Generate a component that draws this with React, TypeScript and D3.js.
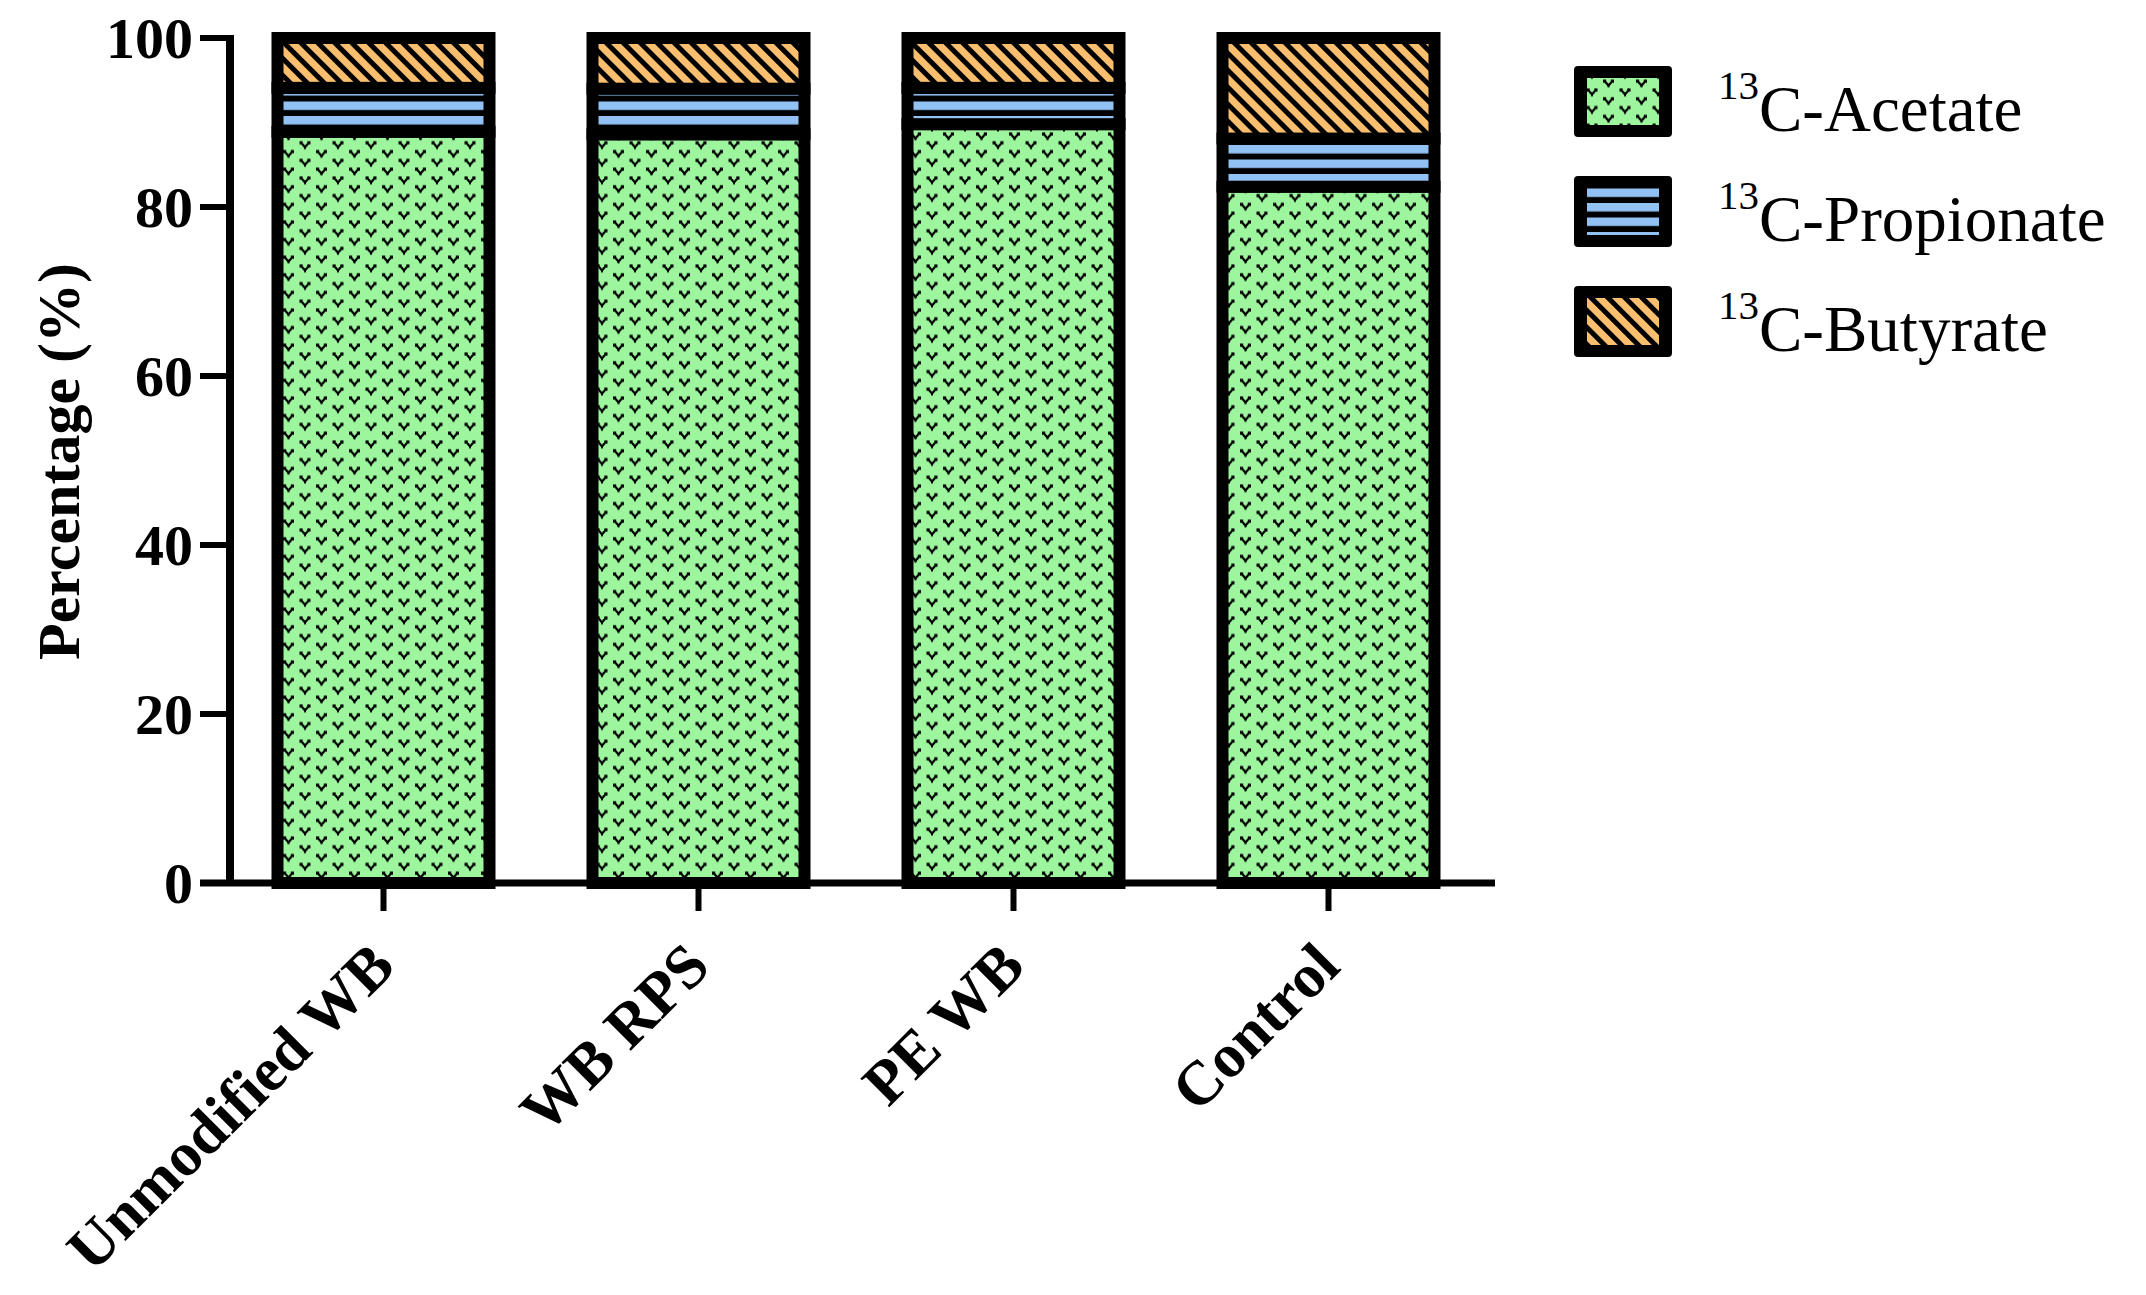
import React from "react";
import * as d3 from "d3";

const categories = ["Unmodified WB", "WB RPS", "PE WB", "Control"];
const acetate = [88.9, 88.6, 89.8, 82.4];
const propionate = [5.2, 5.4, 4.3, 5.7];
const butyrate = [5.9, 6.0, 5.9, 11.9];
const seriesKeys = ["acetate", "propionate", "butyrate"];
const seriesLabels = ["C-Acetate", "C-Propionate", "C-Butyrate"];
const yTicks = [0, 20, 40, 60, 80, 100];

const GREEN = "#9df59d";
const BLUE = "#92c2f4";
const ORANGE = "#f9be6e";
const W = 2146;
const H = 1295;
const FONT = "'Liberation Serif', 'Times New Roman', serif";

export default function App() {
  const x = d3
    .scaleBand<string>()
    .domain(categories)
    .range([226, 1486])
    .paddingInner(0.327)
    .paddingOuter(0.1635);
  const y = d3.scaleLinear().domain([0, 100]).range([883, 38]);
  const rows = categories.map((c, i) => ({
    cat: c,
    acetate: acetate[i],
    propionate: propionate[i],
    butyrate: butyrate[i],
  }));
  const stacked = d3.stack<any>().keys(seriesKeys)(rows);
  const patIds = ["pat-acetate", "pat-propionate", "pat-butyrate"];
  const bw = x.bandwidth();

  return (
    <svg
      width={W}
      height={H}
      style={{ position: "absolute", left: 0, top: 0 }}
      fontFamily={FONT}
    >
      <defs>
        <pattern id="pat-acetate" patternUnits="userSpaceOnUse" width={33} height={17.6}>
          <rect width={33} height={17.6} fill={GREEN} />
          {[
            [8, 4.4],
            [24.5, 13.2],
          ].map(([mx, my], k) => (
            <g key={k} transform={`translate(${mx},${my})`}>
              <rect x={-5.5} y={-4} width={3.2} height={3.2} fill="#000" />
              <rect x={2.3} y={-4} width={3.2} height={3.2} fill="#000" />
              <path d="M-3,-1.5L0,2L3,-1.5" stroke="#000" strokeWidth={2.2} fill="none" />
              <path d="M0,1.5V3.8" stroke="#000" strokeWidth={2} fill="none" />
            </g>
          ))}
        </pattern>
        <pattern id="pat-propionate" patternUnits="userSpaceOnUse" width={10} height={14.5}>
          <rect width={10} height={14.5} fill="#000" />
          <rect width={10} height={8.5} fill={BLUE} />
        </pattern>
        <pattern
          id="pat-butyrate"
          patternUnits="userSpaceOnUse"
          width={12}
          height={12}
          patternTransform="rotate(-45)"
        >
          <rect width={12} height={12} fill={ORANGE} />
          <rect width={5} height={12} fill="#000" />
        </pattern>
      </defs>
      <rect width={W} height={H} fill="#fff" />

      {/* bars */}
      {stacked.map((s, j) => (
        <g key={s.key}>
          {s.map((d: any, i: number) => (
            <rect
              key={i}
              x={x(d.data.cat)}
              y={y(d[1])}
              width={bw}
              height={y(d[0]) - y(d[1])}
              fill={`url(#${patIds[j]})`}
              stroke="#000"
              strokeWidth={12}
            />
          ))}
        </g>
      ))}

      {/* y axis */}
      <line x1={230} x2={230} y1={y(100) - 3} y2={y(0) + 3} stroke="#000" strokeWidth={8} />
      {yTicks.map((t) => (
        <g key={t}>
          <line x1={200} x2={230} y1={y(t)} y2={y(t)} stroke="#000" strokeWidth={6} />
          <text
            x={193}
            y={y(t)}
            dy="0.35em"
            textAnchor="end"
            fontSize={58}
            fontWeight="bold"
          >
            {t}
          </text>
        </g>
      ))}
      <text
        transform={`translate(79,${(y(0) + y(100)) / 2 + 1}) rotate(-90)`}
        textAnchor="middle"
        fontSize={60}
        fontWeight="bold"
      >
        Percentage (%)
      </text>

      {/* x axis */}
      <line x1={200} x2={1495} y1={y(0)} y2={y(0)} stroke="#000" strokeWidth={7} />
      {categories.map((c) => {
        const cx = (x(c) as number) + bw / 2;
        return (
          <g key={c}>
            <line x1={cx} x2={cx} y1={y(0)} y2={y(0) + 28} stroke="#000" strokeWidth={6} />
            <text
              transform={`translate(${cx + 14},${y(0) + 86}) rotate(-45)`}
              textAnchor="end"
              fontSize={62}
              fontWeight="bold"
            >
              {c}
            </text>
          </g>
        );
      })}

      {/* legend */}
      {seriesLabels.map((lab, i) => {
        const top = 66 + i * 110;
        return (
          <g key={lab}>
            <rect x={1574} y={top} width={98} height={71} rx={4} fill="#000" />
            <rect x={1587} y={top + 12} width={72} height={47} fill={`url(#${patIds[i]})`} />
            <text x={1718} y={top + 65} fontSize={65}>
              <tspan fontSize={41} dy={-32}>
                13
              </tspan>
              <tspan dy={32}>{lab}</tspan>
            </text>
          </g>
        );
      })}
    </svg>
  );
}
